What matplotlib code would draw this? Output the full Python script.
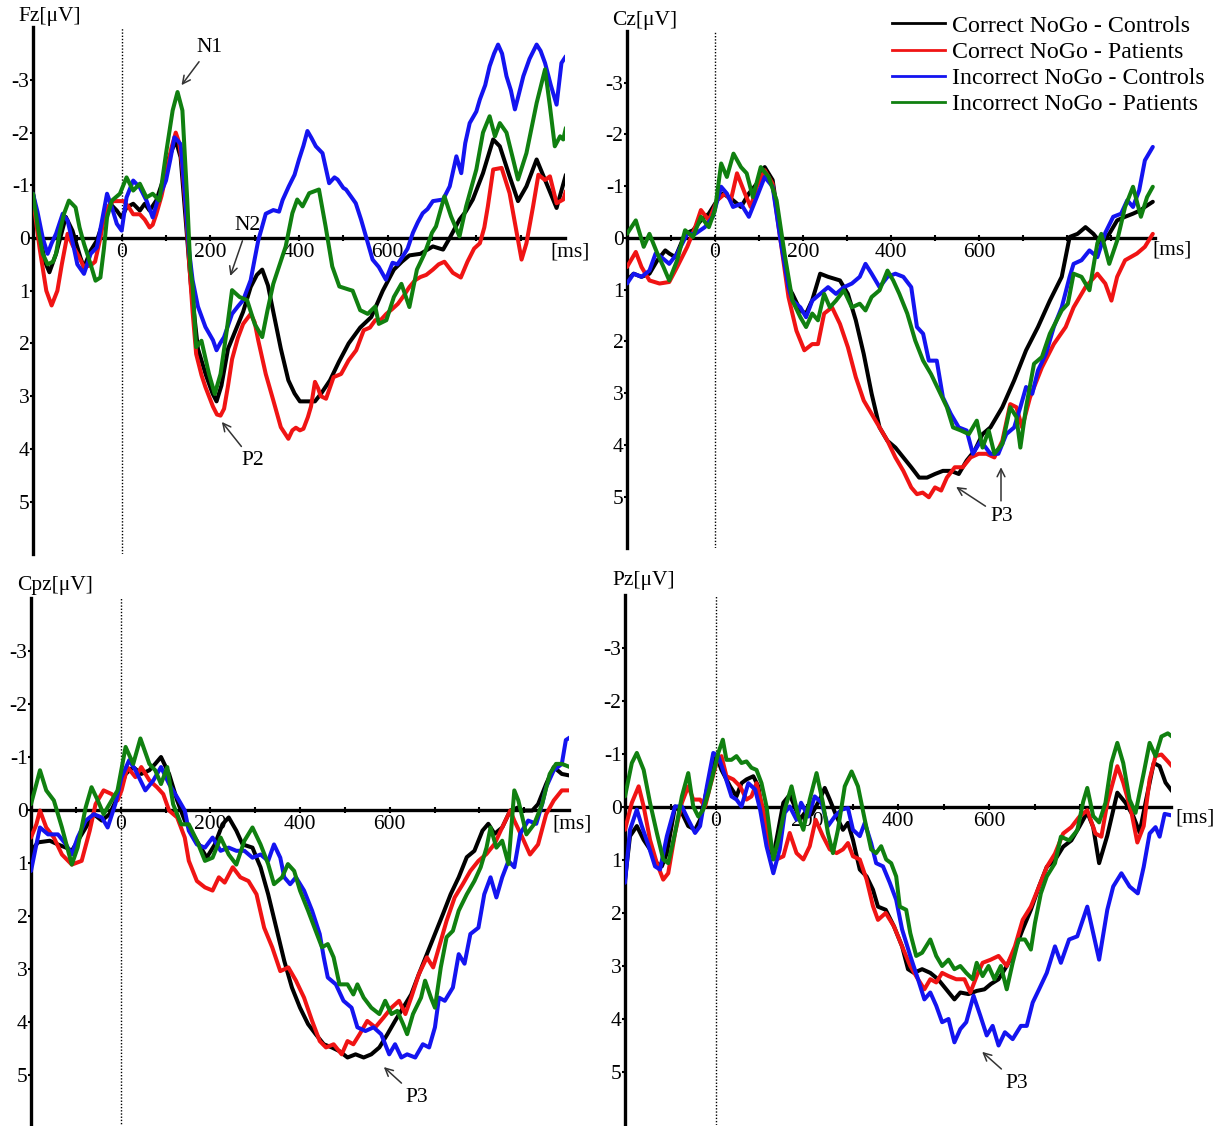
import matplotlib
matplotlib.use('Agg')
import matplotlib.pyplot as plt
from matplotlib.lines import Line2D

plt.rcParams['font.family'] = ['Liberation Serif', 'DejaVu Serif']
plt.rcParams['axes.unicode_minus'] = False
plt.rcParams['mathtext.fontset'] = 'stix'

# ---------------- data ----------------
series_names = ['Correct NoGo - Controls', 'Correct NoGo - Patients',
                'Incorrect NoGo - Controls', 'Incorrect NoGo - Patients']
series_colors = ['#000000', '#f01414', '#1414f0', '#108010']
channel_names = ['Fz', 'Cz', 'Cpz', 'Pz']
ytick_vals = [-3, -2, -1, 0, 1, 2, 3, 4, 5]
xtick_vals = [0, 200, 400, 600]
xminor_vals = [-100, 100, 300, 500, 700, 800, 900]

# (time ms, amplitude uV)
fz_black = [(-200,-0.85),(-185,-0.1),(-174,0.43),(-163,0.65),(-148,0.3),(-126,-0.4),(-111,-0.14),(-93,0.37),(-85,0.56),(-70,0.24),(-56,0.05),(-41,-0.33),(-26,-0.65),(-11,-0.52),(0,-0.39),(11,-0.58),(26,-0.65),(41,-0.52),(52,-0.65),(63,-0.52),(78,-0.71),(93,-1.09),(107,-1.53),(122,-1.85),(133,-1.53),(144,-0.39),(156,0.87),(172,2.1),(190,2.6),(205,2.95),(214,3.1),(225,2.8),(240,2.1),(257,1.75),(274,1.4),(291,0.93),(305,0.7),(317,0.6),(330,0.9),(342,1.4),(359,2.1),(376,2.7),(390,2.95),(402,3.1),(420,3.1),(436,3.1),(450,2.95),(470,2.7),(490,2.35),(512,2.0),(538,1.7),(563,1.5),(589,1.0),(614,0.6),(632,0.45),(649,0.33),(674,0.3),(702,0.16),(725,0.22),(740,0.0),(762,-0.35),(776,-0.5),(792,-0.73),(815,-1.23),(838,-1.87),(853,-1.74),(875,-1.17),(894,-0.7),(913,-0.98),(936,-1.49),(958,-1.04),(981,-0.57),(1002,-1.2)]
fz_red = [(-200,-0.75),(-185,0.2),(-170,1.0),(-158,1.28),(-145,1.0),(-135,0.5),(-122,-0.08),(-110,0.15),(-100,0.3),(-85,0.55),(-70,0.52),(-60,0.45),(-48,0.0),(-41,-0.33),(-30,-0.6),(-19,-0.7),(4,-0.7),(15,-0.6),(26,-0.45),(41,-0.45),(52,-0.35),(63,-0.2),(70,-0.25),(78,-0.45),(90,-0.8),(100,-1.2),(112,-1.7),(122,-2.0),(130,-1.8),(137,-1.34),(145,-0.5),(152,0.43),(160,1.4),(168,2.2),(180,2.6),(189,2.83),(206,3.2),(215,3.35),(223,3.37),(231,3.24),(240,2.8),(249,2.3),(262,1.9),(274,1.63),(291,1.44),(300,1.6),(308,1.94),(325,2.58),(342,3.08),(359,3.59),(376,3.81),(385,3.65),(393,3.6),(402,3.65),(410,3.62),(420,3.4),(427,3.2),(436,2.73),(443,2.85),(449,3.0),(461,3.05),(478,2.64),(495,2.58),(512,2.32),(529,2.13),(546,1.75),(560,1.7),(572,1.56),(585,1.55),(597,1.44),(610,1.35),(623,1.25),(636,1.1),(649,0.93),(662,0.8),(674,0.74),(687,0.7),(702,0.6),(715,0.5),(728,0.45),(747,0.66),(765,0.75),(780,0.45),(795,0.2),(808,0.1),(818,-0.2),(826,-0.6),(838,-1.3),(857,-1.33),(875,-0.85),(891,-0.1),(902,0.41),(913,0.1),(928,-0.6),(940,-1.2),(955,-1.1),(966,-1.17),(981,-0.66),(996,-0.73),(1002,-0.89)]
fz_blue = [(-200,-0.84),(-190,-0.5),(-178,0.0),(-167,0.3),(-158,0.1),(-148,-0.08),(-133,-0.46),(-122,-0.33),(-110,0.1),(-100,0.5),(-85,0.68),(-70,0.3),(-56,0.18),(-45,-0.3),(-33,-0.84),(-22,-0.58),(-11,-0.27),(0,-0.14),(11,-0.77),(26,-1.09),(41,-0.96),(56,-0.71),(70,-0.39),(81,-0.71),(100,-1.09),(110,-1.5),(119,-1.91),(126,-1.85),(133,-1.78),(143,-0.8),(152,0.24),(160,0.8),(172,1.3),(189,1.69),(206,1.94),(214,2.13),(222,2.0),(231,1.88),(249,1.44),(262,1.3),(274,1.18),(291,0.8),(300,0.4),(308,0.05),(325,-0.46),(342,-0.53),(355,-0.5),(363,-0.72),(377,-0.98),(390,-1.2),(400,-1.49),(410,-1.75),(419,-2.03),(428,-1.9),(438,-1.74),(453,-1.61),(468,-1.04),(480,-1.15),(487,-1.11),(500,-0.95),(506,-0.92),(528,-0.66),(540,-0.35),(551,-0.03),(566,0.41),(580,0.55),(596,0.79),(611,0.47),(622,0.5),(634,0.35),(645,0.2),(657,-0.1),(668,-0.3),(679,-0.47),(690,-0.55),(702,-0.7),(725,-0.73),(740,-0.98),(755,-1.55),(766,-1.23),(775,-1.8),(785,-2.18),(800,-2.4),(808,-2.63),(820,-2.9),(830,-3.26),(840,-3.5),(849,-3.67),(858,-3.5),(868,-3.07),(878,-2.8),(887,-2.44),(895,-2.7),(906,-3.07),(920,-3.4),(936,-3.67),(945,-3.55),(955,-3.32),(968,-2.9),(981,-2.53),(992,-3.32),(1002,-3.45)]
fz_green = [(-200,-0.84),(-189,-0.2),(-178,0.3),(-167,0.5),(-155,0.45),(-148,0.3),(-140,-0.1),(-130,-0.46),(-119,-0.71),(-104,-0.58),(-95,-0.2),(-85,0.11),(-70,0.5),(-59,0.81),(-48,0.75),(-40,0.2),(-33,-0.39),(-22,-0.71),(-4,-0.84),(11,-1.15),(26,-0.9),(41,-1.03),(56,-0.77),(70,-0.84),(85,-0.71),(100,-1.6),(115,-2.42),(126,-2.77),(137,-2.42),(148,-0.71),(155,0.6),(160,0.9),(168,2.07),(180,1.95),(197,2.58),(210,2.96),(223,2.58),(236,1.82),(249,0.99),(266,1.12),(283,1.18),(300,1.63),(317,1.88),(329,1.37),(342,0.87),(355,0.54),(370,0.16),(385,-0.47),(396,-0.73),(408,-0.6),(423,-0.85),(445,-0.92),(460,-0.22),(475,0.54),(491,0.92),(513,0.98),(521,1.0),(538,1.37),(555,1.44),(572,1.3),(580,1.63),(597,1.56),(614,1.12),(631,0.87),(649,1.31),(666,0.6),(683,0.3),(700,-0.1),(709,-0.22),(728,-0.79),(743,-0.41),(762,-0.03),(777,-0.6),(800,-1.3),(815,-2.0),(830,-2.31),(842,-1.93),(853,-2.18),(868,-2.0),(883,-1.49),(894,-1.11),(913,-1.61),(936,-2.56),(955,-3.2),(966,-2.5),(977,-1.74),(989,-1.93),(996,-1.87),(1002,-2.09)]

cz_black = [(-200,0.82),(-185,0.69),(-167,0.75),(-149,0.69),(-131,0.43),(-113,0.24),(-104,0.3),(-90,0.37),(-68,-0.08),(-50,-0.15),(-32,-0.34),(-14,-0.47),(5,-0.73),(18,-0.86),(41,-0.73),(59,-0.6),(77,-0.86),(95,-1.05),(113,-1.37),(131,-1.12),(149,-0.08),(167,0.95),(176,1.08),(194,1.4),(207,1.46),(221,1.2),(239,0.69),(257,0.75),(284,0.82),(302,1.08),(320,1.59),(338,2.24),(356,3.01),(374,3.66),(392,3.92),(410,4.05),(428,4.24),(446,4.43),(464,4.63),(482,4.63),(500,4.56),(518,4.5),(536,4.5),(554,4.56),(572,4.3),(590,4.11),(608,3.79),(626,3.66),(653,3.27),(680,2.75),(707,2.17),(734,1.72),(761,1.21),(788,0.75),(806,-0.02),(824,-0.08),(842,-0.21),(860,-0.08),(878,0.11),(896,-0.08),(914,-0.34),(932,-0.41),(950,-0.47),(968,-0.54),(977,-0.6),(995,-0.7)]
cz_red = [(-200,0.56),(-180,0.27),(-167,0.56),(-149,0.82),(-126,0.88),(-104,0.85),(-86,0.56),(-63,0.17),(-45,-0.21),(-32,-0.54),(-14,-0.34),(5,-0.73),(23,-0.86),(36,-0.73),(50,-1.25),(68,-0.86),(81,-0.6),(95,-0.99),(113,-1.31),(131,-1.05),(149,0.05),(167,1.14),(185,1.79),(203,2.17),(221,2.05),(234,2.05),(248,1.46),(266,1.34),(284,1.66),(302,2.11),(320,2.69),(338,3.14),(356,3.4),(374,3.66),(392,3.92),(410,4.24),(428,4.5),(446,4.82),(459,4.95),(472,4.92),(486,5.01),(500,4.82),(514,4.88),(527,4.63),(545,4.43),(563,4.43),(581,4.24),(599,4.17),(617,4.17),(635,4.24),(653,3.92),(671,3.21),(685,3.27),(698,3.66),(716,3.08),(743,2.5),(770,2.05),(797,1.72),(815,1.34),(842,0.95),(869,0.69),(887,0.88),(901,1.21),(914,0.75),(932,0.43),(959,0.3),(977,0.17),(995,-0.08)]
cz_blue = [(-200,0.88),(-185,0.69),(-167,0.75),(-149,0.63),(-135,0.3),(-122,0.37),(-104,0.5),(-86,0.3),(-63,-0.08),(-45,-0.08),(-23,-0.21),(-5,-0.41),(14,-0.99),(27,-0.86),(41,-0.6),(59,-0.66),(77,-0.41),(95,-0.79),(113,-1.18),(131,-0.99),(149,0.05),(167,0.95),(176,1.21),(194,1.34),(207,1.53),(221,1.21),(239,1.08),(257,0.95),(275,1.08),(293,0.95),(311,0.88),(329,0.75),(342,0.5),(356,0.69),(374,0.95),(392,0.75),(410,0.69),(428,0.75),(446,0.95),(459,1.72),(473,1.85),(486,2.37),(504,2.37),(518,3.08),(536,3.4),(554,3.66),(572,3.72),(586,4.17),(604,3.92),(626,4.17),(644,4.17),(662,3.79),(680,3.66),(694,3.27),(707,2.88),(721,3.01),(734,2.56),(752,2.24),(770,1.72),(788,1.34),(806,0.75),(815,0.5),(833,0.43),(851,0.24),(869,0.37),(887,-0.1),(905,-0.41),(923,-0.47),(937,-0.73),(950,-0.6),(964,-0.92),(977,-1.5),(986,-1.63),(995,-1.76)]
cz_green = [(-200,-0.08),(-180,-0.34),(-162,0.17),(-149,-0.08),(-131,0.3),(-117,0.56),(-104,0.82),(-86,0.43),(-68,-0.15),(-50,-0.02),(-32,-0.41),(-14,-0.21),(0,-0.54),(14,-1.44),(27,-1.18),(42,-1.63),(59,-1.37),(72,-1.25),(86,-0.79),(104,-1.37),(122,-1.18),(140,-0.73),(158,0.3),(176,1.21),(194,1.53),(207,1.72),(221,1.46),(234,1.59),(248,1.08),(261,1.34),(275,1.21),(293,1.01),(311,1.34),(329,1.27),(342,1.4),(356,1.14),(374,1.01),(392,0.63),(405,0.82),(419,1.08),(437,1.46),(455,1.98),(473,2.37),(491,2.63),(509,2.95),(527,3.27),(541,3.66),(559,3.72),(577,3.79),(595,3.53),(608,4.05),(622,3.72),(635,4.17),(653,3.98),(671,3.27),(685,3.46),(694,4.05),(707,3.27),(725,2.43),(743,2.3),(761,1.85),(788,1.4),(802,1.27),(815,0.69),(833,0.75),(851,1.01),(869,0.1),(878,-0.08),(896,0.5),(914,0.05),(932,-0.6),(950,-0.99),(968,-0.41),(982,-0.79),(995,-0.99)]

cpz_black = [(-200,0.77),(-184,0.61),(-158,0.58),(-140,0.65),(-122,0.71),(-109,0.77),(-87,0.46),(-60,0.08),(-42,0.2),(-25,0.08),(-7,-0.24),(11,-0.68),(28,-0.81),(46,-0.68),(64,-0.75),(77,-0.87),(90,-1.0),(108,-0.68),(126,-0.18),(143,0.2),(161,0.46),(179,0.71),(192,0.9),(210,0.65),(227,0.27),(241,0.14),(258,0.39),(272,0.65),(294,0.71),(303,0.9),(312,1.08),(329,1.59),(347,2.22),(365,2.85),(382,3.35),(400,3.73),(418,4.04),(435,4.23),(453,4.42),(471,4.48),(488,4.55),(506,4.67),(524,4.61),(542,4.67),(559,4.61),(577,4.48),(595,4.23),(612,3.98),(630,3.73),(648,3.48),(665,3.1),(683,2.72),(701,2.34),(719,1.96),(736,1.59),(754,1.27),(772,0.89),(789,0.77),(807,0.39),(820,0.26),(834,0.45),(851,0.33),(869,0.01),(887,-0.05),(896,0.01),(918,0.01),(931,-0.11),(949,-0.49),(966,-0.81),(984,-0.68),(1002,-0.65)]
cpz_red = [(-200,0.52),(-188,0.27),(-180,0.01),(-166,0.33),(-149,0.52),(-131,0.84),(-109,1.03),(-87,0.96),(-69,0.39),(-56,-0.11),(-38,-0.37),(-20,-0.3),(-7,-0.18),(2,-0.37),(15,-0.81),(33,-0.62),(46,-0.81),(64,-0.56),(81,-0.43),(95,-0.3),(108,0.01),(126,0.14),(143,0.52),(152,0.96),(170,1.34),(188,1.46),(205,1.52),(219,1.27),(232,1.37),(250,1.08),(267,1.27),(285,1.34),(303,1.59),(320,2.22),(338,2.59),(356,3.04),(374,2.97),(391,3.22),(409,3.54),(427,3.98),(444,4.36),(458,4.48),(475,4.42),(493,4.61),(506,4.36),(519,4.42),(533,4.23),(550,3.98),(568,4.1),(586,3.92),(604,3.73),(621,3.6),(635,3.85),(648,3.54),(665,3.1),(683,2.78),(697,2.97),(710,2.59),(727,2.09),(745,1.65),(763,1.4),(780,1.15),(798,0.96),(816,0.83),(834,0.64),(851,0.33),(869,0.01),(878,0.2),(896,0.52),(913,0.84),(931,0.65),(949,0.08),(966,-0.18),(984,-0.37),(1002,-0.37)]
cpz_blue = [(-200,1.15),(-188,0.65),(-180,0.33),(-162,0.46),(-140,0.46),(-122,0.65),(-109,0.84),(-96,0.52),(-78,0.2),(-60,0.08),(-42,0.14),(-29,0.33),(-12,-0.11),(2,-0.62),(19,-0.94),(33,-0.75),(55,-0.37),(73,-0.56),(90,-0.81),(108,-0.49),(126,-0.24),(143,0.01),(152,0.39),(170,0.65),(188,0.71),(205,0.52),(223,0.77),(241,0.71),(258,0.77),(276,0.77),(294,0.9),(312,0.84),(329,0.96),(342,0.65),(356,0.9),(365,1.27),(378,1.4),(391,1.27),(409,1.52),(427,1.9),(444,2.34),(453,2.78),(462,3.16),(480,3.29),(497,3.6),(515,3.73),(528,4.1),(546,4.17),(564,4.1),(581,4.23),(599,4.61),(612,4.42),(626,4.67),(639,4.61),(657,4.67),(674,4.42),(688,4.48),(701,4.1),(710,3.54),(723,3.6),(741,3.35),(754,2.72),(767,2.9),(780,2.34),(798,2.22),(811,1.59),(825,1.27),(838,1.65),(851,1.27),(865,0.96),(878,1.08),(891,0.45),(909,0.2),(927,0.26),(940,-0.11),(949,-0.43),(966,-0.75),(984,-0.87),(993,-1.32),(1004,-1.38)]
cpz_green = [(-200,-0.11),(-188,-0.49),(-180,-0.75),(-166,-0.37),(-149,-0.18),(-131,0.33),(-109,1.03),(-96,0.71),(-78,-0.05),(-65,-0.43),(-51,-0.18),(-38,0.08),(-25,-0.11),(-7,-0.37),(11,-1.19),(28,-0.87),(44,-1.35),(64,-0.87),(77,-0.75),(90,-0.49),(104,-0.81),(117,-0.11),(135,0.27),(152,0.27),(170,0.58),(188,0.96),(205,0.9),(223,0.52),(241,0.84),(258,1.03),(276,0.58),(294,0.33),(312,0.65),(329,1.02),(342,1.4),(360,1.27),(373,1.02),(387,1.15),(400,1.52),(418,1.9),(435,2.28),(449,2.59),(462,2.53),(475,2.78),(488,3.29),(506,3.29),(519,3.48),(528,3.29),(542,3.54),(559,3.73),(577,3.85),(590,3.6),(604,3.85),(617,3.79),(630,4.04),(639,4.23),(652,3.85),(670,3.54),(679,3.22),(692,3.54),(701,3.73),(714,2.97),(727,2.4),(741,2.28),(754,1.9),(772,1.59),(789,1.34),(803,1.08),(816,0.71),(825,0.33),(838,0.71),(851,0.58),(865,1.02),(878,-0.37),(887,-0.18),(905,0.46),(922,0.27),(940,-0.11),(957,-0.68),(971,-0.87),(984,-0.87),(1002,-0.81)]

pz_black = [(-200,1.37),(-189,0.55),(-174,0.36),(-159,0.62),(-145,0.8),(-130,1.06),(-119,1.12),(-108,0.87),(-90,-0.01),(-75,0.11),(-61,0.36),(-46,0.43),(-35,0.24),(-20,-0.33),(-10,-0.64),(1,-0.96),(12,-0.7),(31,-0.39),(45,-0.2),(56,-0.45),(67,-0.52),(82,-0.58),(93,-0.39),(104,0.24),(115,0.74),(126,0.93),(137,0.43),(148,-0.08),(162,-0.23),(173,-0.01),(184,0.24),(195,0.11),(210,0.14),(228,-0.14),(239,-0.36),(250,-0.14),(265,0.18),(279,0.43),(290,0.3),(301,0.62),(316,1.18),(331,1.31),(345,1.56),(356,1.88),(373,1.94),(391,2.25),(409,2.63),(422,3.06),(435,3.13),(453,3.06),(471,3.13),(488,3.25),(506,3.44),(524,3.63),(537,3.5),(555,3.53),(573,3.47),(590,3.44),(604,3.34),(621,3.25),(639,3.0),(657,2.69),(674,2.31),(692,1.94),(710,1.5),(727,1.13),(745,1.0),(763,0.75),(781,0.63),(798,0.38),(816,0.1),(829,0.38),(842,1.06),(860,0.54),(882,-0.27),(900,-0.08),(917,0.17),(931,0.48),(944,-0.08),(962,-0.83),(975,-0.77),(988,-0.46),(1002,-0.3)]
pz_red = [(-200,0.43),(-185,-0.08),(-170,-0.39),(-159,-0.01),(-145,0.62),(-130,1.06),(-116,1.37),(-105,1.25),(-90,0.49),(-75,-0.08),(-61,-0.39),(-50,-0.14),(-35,-0.14),(-24,-0.01),(-13,-0.39),(1,-0.83),(12,-0.96),(23,-0.58),(38,-0.52),(53,-0.39),(67,-0.14),(78,-0.2),(89,-0.45),(104,0.05),(118,0.74),(133,0.99),(148,0.93),(162,0.49),(177,0.87),(192,0.99),(206,0.74),(219,0.24),(235,0.55),(250,0.8),(265,0.87),(279,0.8),(290,0.68),(301,0.93),(316,0.99),(331,1.37),(345,1.87),(356,2.13),(373,2.0),(391,2.25),(409,2.63),(427,3.0),(444,3.25),(458,3.44),(471,3.25),(484,3.31),(497,3.13),(511,3.19),(528,3.25),(546,3.25),(559,3.5),(573,3.19),(586,2.94),(604,2.88),(621,2.81),(639,3.0),(657,2.63),(674,2.13),(692,1.88),(710,1.5),(727,1.13),(745,0.88),(763,0.5),(781,0.38),(798,0.19),(816,0.06),(834,0.5),(847,0.56),(860,-0.08),(882,-0.77),(895,-0.46),(913,0.1),(926,0.67),(940,0.36),(953,-0.52),(966,-0.96),(979,-0.99),(993,-0.86),(1002,-0.77)]
pz_blue = [(-200,1.43),(-189,0.43),(-174,0.05),(-163,0.36),(-148,0.74),(-134,1.12),(-123,1.18),(-108,0.55),(-90,-0.01),(-75,-0.01),(-61,0.24),(-46,0.49),(-35,0.36),(-20,-0.39),(-6,-1.02),(5,-0.96),(20,-0.58),(34,-0.2),(45,-0.14),(56,-0.01),(71,-0.45),(86,-0.33),(97,0.05),(111,0.74),(126,1.25),(140,0.8),(151,0.11),(162,-0.01),(177,0.24),(187,-0.08),(203,0.18),(217,-0.2),(232,-0.08),(246,0.36),(261,0.18),(276,0.05),(290,0.02),(301,0.43),(316,0.55),(327,0.3),(341,0.68),(352,1.06),(367,1.12),(382,1.43),(396,1.75),(409,2.31),(427,2.81),(444,3.25),(458,3.63),(471,3.5),(484,3.75),(497,4.06),(511,4.0),(524,4.44),(537,4.19),(550,4.06),(566,3.56),(581,3.94),(595,4.31),(608,4.13),(621,4.5),(635,4.25),(652,4.38),(670,4.13),(683,4.13),(696,3.69),(710,3.44),(727,3.13),(745,2.63),(758,2.94),(776,2.5),(794,2.44),(816,1.88),(829,2.38),(842,2.88),(860,1.94),(873,1.5),(891,1.25),(909,1.5),(927,1.63),(940,1.13),(953,0.5),(966,0.38),(975,0.56),(986,0.13),(1002,0.16)]
pz_green = [(-200,-0.2),(-185,-0.83),(-174,-1.02),(-159,-0.7),(-145,-0.08),(-130,0.49),(-116,0.99),(-105,1.06),(-90,0.49),(-75,-0.2),(-61,-0.64),(-50,-0.01),(-39,0.18),(-28,0.05),(-17,-0.26),(-6,-0.64),(5,-1.02),(15,-1.27),(23,-0.89),(34,-0.89),(45,-0.96),(56,-0.83),(67,-0.86),(78,-0.74),(89,-0.7),(100,-0.45),(111,-0.01),(126,0.99),(137,0.62),(151,0.05),(166,-0.39),(181,0.18),(192,0.43),(206,-0.14),(221,-0.64),(235,-0.08),(246,0.49),(257,0.87),(268,0.43),(283,-0.39),(298,-0.67),(312,-0.39),(327,0.24),(341,0.8),(352,0.87),(363,0.74),(374,0.99),(385,1.06),(396,1.31),(404,1.88),(418,1.94),(427,2.38),(440,2.81),(453,2.75),(471,2.5),(484,2.81),(497,3.0),(511,2.88),(524,3.06),(537,3.0),(550,3.13),(564,3.25),(573,2.94),(586,3.19),(599,3.0),(612,3.25),(626,3.0),(639,3.44),(652,2.94),(665,2.5),(679,2.5),(692,2.69),(701,2.19),(714,1.63),(727,1.31),(745,1.06),(758,0.56),(776,0.63),(794,0.44),(807,-0.1),(816,-0.36),(829,0.17),(842,0.29),(856,-0.08),(869,-0.83),(882,-1.21),(895,-0.83),(909,-0.14),(922,0.11),(940,-0.64),(953,-1.21),(966,-0.96),(979,-1.33),(993,-1.39),(1002,-1.33)]

panel_series = [
    [fz_black, fz_red, fz_blue, fz_green],
    [cz_black, cz_red, cz_blue, cz_green],
    [cpz_black, cpz_red, cpz_blue, cpz_green],
    [pz_black, pz_red, pz_blue, pz_green],
]

# ---------------- layout ----------------
W, H = 1216, 1126
fig = plt.figure(figsize=(W / 100, H / 100), dpi=100)
fig.patch.set_facecolor('white')

# axes rectangles in pixels: left, top, right, bottom
rects_px = [(33, 27.2, 565, 554.2),
            (627, 31, 1155, 548.5),
            (31, 598, 569, 1128),
            (625, 595, 1171, 1125)]
label_px = [(18, 17), (612, 20), (17, 585), (612, 581)]
ms_pos = [(966, 0.27), (993, 0.23), (962, 0.26), (1009, 0.21)]

FS = 15.5
axes = []
for i, (l, t, r, b) in enumerate(rects_px):
    ax = fig.add_axes([l / W, 1 - b / H, (r - l) / W, (b - t) / H])
    ax.set_facecolor('none')
    ax.set_xlim(-200, 1000)
    ax.set_ylim(6, -4)
    for s in ['top', 'right']:
        ax.spines[s].set_visible(False)
    ax.spines['left'].set_linewidth(2.4)
    ax.spines['bottom'].set_linewidth(2.4)
    ax.spines['bottom'].set_position(('data', 0))
    ax.set_yticks(ytick_vals)
    ax.set_yticklabels([str(v) for v in ytick_vals], fontsize=FS)
    ax.set_xticks(xtick_vals)
    ax.set_xticklabels([str(v) for v in xtick_vals], fontsize=FS)
    ax.set_xticks(xminor_vals, minor=True)
    ax.tick_params(axis='y', direction='out', length=2.5, width=1.5, pad=0)
    ax.tick_params(axis='x', which='both', direction='inout', length=5, width=1.5, pad=1)
    ax.axvline(0, color='black', lw=1.0, ls=(0, (1, 1.3)), zorder=1)
    for ser, col in zip(panel_series[i], series_colors):
        ax.plot([p[0] for p in ser], [p[1] for p in ser], color=col, lw=2.9,
                solid_joinstyle='round', solid_capstyle='round', zorder=3)
    ax.text(ms_pos[i][0], ms_pos[i][1], '[ms]', fontsize=FS, ha='left', va='center',
            clip_on=False)
    lx, ly = label_px[i]
    fig.text(lx / W, 1 - ly / H, channel_names[i] + '[\u03bcV]', fontsize=FS,
             ha='left', va='center')
    axes.append(ax)

arrow = dict(arrowstyle='->', color='#333333', lw=1.1, shrinkA=2, shrinkB=0,
             mutation_scale=14)
ax_fz, ax_cz, ax_cpz, ax_pz = axes
ax_fz.annotate('N1', xy=(135, -2.9), xytext=(199, -3.62), fontsize=FS, ha='center',
               va='center', arrowprops=arrow)
ax_fz.annotate('N2', xy=(245, 0.72), xytext=(284, -0.23), fontsize=FS, ha='center',
               va='center', arrowprops=arrow)
ax_fz.annotate('P2', xy=(226, 3.49), xytext=(296, 4.23), fontsize=FS, ha='center',
               va='center', arrowprops=arrow)
ax_cz.annotate('P3', xy=(548, 4.81), xytext=(652, 5.39), fontsize=FS, ha='center',
               va='center', arrowprops=arrow)
ax_cz.annotate('', xy=(650, 4.43), xytext=(650, 5.08), arrowprops=dict(arrow, shrinkA=0))
ax_cpz.annotate('P3', xy=(587, 4.85), xytext=(661, 5.42), fontsize=FS, ha='center',
                va='center', arrowprops=arrow)
ax_pz.annotate('P3', xy=(585, 4.62), xytext=(662, 5.21), fontsize=FS, ha='center',
               va='center', arrowprops=arrow)

handles = [Line2D([], [], color=c, lw=2) for c in series_colors]
fig.legend(handles, series_names, loc='upper left', bbox_to_anchor=(892 / W, 1 - 15 / H),
           frameon=False, fontsize=17.2, handlelength=2.2, handletextpad=0.3,
           labelspacing=0.185, borderaxespad=0, borderpad=0)

fig.savefig('out.png', dpi=100, facecolor='white')
